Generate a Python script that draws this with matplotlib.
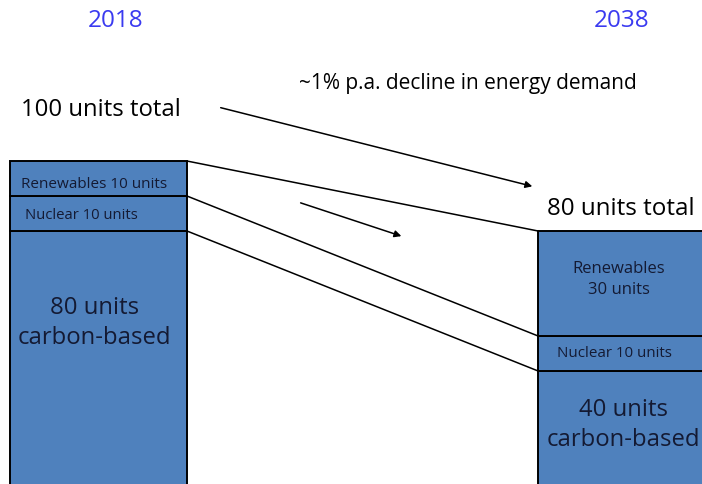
import matplotlib
matplotlib.use('Agg')
import matplotlib.pyplot as plt
import numpy as np

plt.rcParams['font.family'] = ['Open Sans', 'DejaVu Sans']

years = ['2018', '2038']
carbon = [80, 40]
nuclear = [10, 10]
renewables = [10, 30]
totals = ['100 units total', '80 units total']

bar_color = '#4f81bd'
text_dark = '#141a33'

fig = plt.figure(figsize=(7.02, 4.85), dpi=100)
ax = fig.add_axes([0, 0, 1, 1])
W, H = 702, 485


def px(x, y):
    # pixel position -> axes fraction
    return x / W, 1 - y / H


x = np.arange(len(years))
width = 0.335
carbon = np.array(carbon)
nuclear = np.array(nuclear)
renewables = np.array(renewables)

ax.bar(x, carbon, width, color=bar_color, edgecolor='black', linewidth=1.4)
ax.bar(x, nuclear, width, bottom=carbon, color=bar_color, edgecolor='black', linewidth=1.4)
ax.bar(x, renewables, width, bottom=carbon + nuclear, color=bar_color, edgecolor='black', linewidth=1.4)

# connecting lines between segment tops
tops = [carbon, carbon + nuclear, carbon + nuclear + renewables]
for t in tops:
    ax.plot([x[0] + width / 2, x[1] - width / 2], [t[0], t[1]], color='black', lw=1.1)

ax.set_xlim(-0.1866, 1.143)
ax.set_ylim(7.7, 146.3)
ax.axis('off')

# year headers
for xp, yr in zip([116, 622], years):
    ax.text(*px(xp, 21), yr, transform=ax.transAxes, ha='center', va='center',
            fontsize=17.5, color='#3a3af0')

ax.text(*px(21, 110), totals[0], transform=ax.transAxes, ha='left', va='center',
        fontsize=17.2, color='black')
ax.text(*px(547, 209), totals[1], transform=ax.transAxes, ha='left', va='center',
        fontsize=17.4, color='black')
ax.text(*px(299, 84), '~1% p.a. decline in energy demand', transform=ax.transAxes,
        ha='left', va='center', fontsize=15, color='black')

# arrows
ax.annotate('', xy=px(535, 188), xytext=px(218, 108), xycoords='axes fraction',
            arrowprops=dict(arrowstyle='-|>', color='black', lw=1.1, mutation_scale=10))
ax.annotate('', xy=px(404, 238), xytext=px(298, 203), xycoords='axes fraction',
            arrowprops=dict(arrowstyle='-|>', color='black', lw=1.1, mutation_scale=10))

# segment labels
ren_mid = carbon + nuclear + renewables / 2
nuc_mid = carbon + nuclear / 2
ax.text(x[0] - 0.008, ren_mid[0] - 1.4, 'Renewables 10 units', ha='center', va='center',
        fontsize=11, color=text_dark)
ax.text(x[0] - 0.139, nuc_mid[0] - 0.3, 'Nuclear 10 units', ha='left', va='center',
        fontsize=10.7, color=text_dark)
ax.text(x[0] - 0.008, carbon[0] - 26, '80 units\ncarbon-based', ha='center', va='center',
        fontsize=17.2, color=text_dark, linespacing=1.38)

ax.text(x[1] - 0.014, ren_mid[1] + 1.4, 'Renewables\n30 units', ha='center', va='center',
        fontsize=12, color=text_dark, linespacing=1.38)
ax.text(x[1] - 0.022, nuc_mid[1] + 0.2, 'Nuclear 10 units', ha='center', va='center',
        fontsize=10.9, color=text_dark)
ax.text(x[1] - 0.005, carbon[1] - 15.2, '40 units\ncarbon-based', ha='center', va='center',
        fontsize=17.2, color=text_dark, linespacing=1.36)

fig.savefig('out.png', dpi=100)
